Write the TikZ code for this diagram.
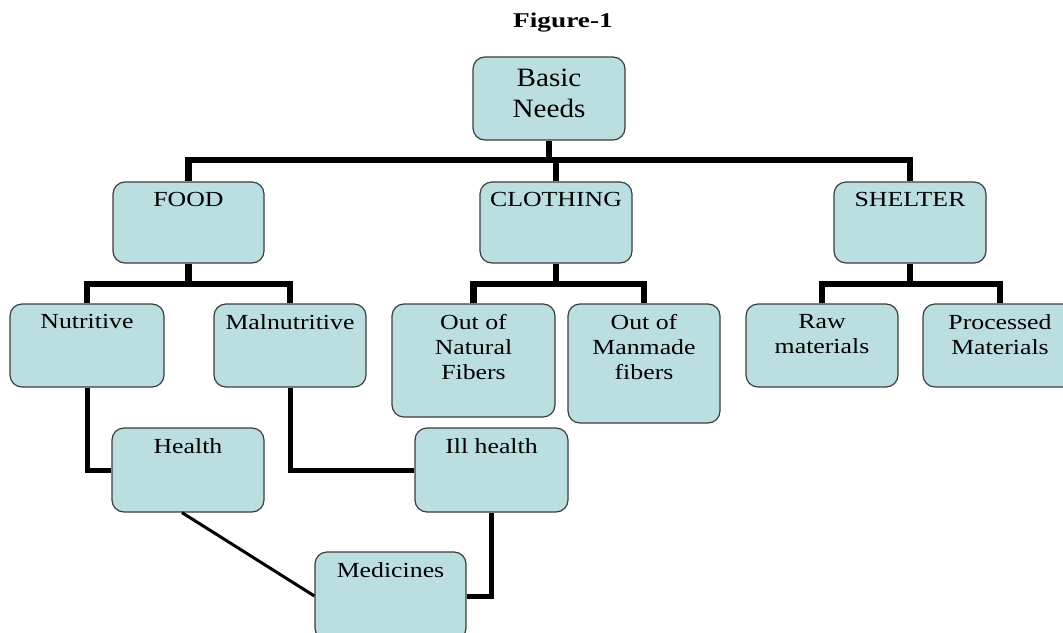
\documentclass[tikz,border=0pt]{standalone}
\usepackage{fontspec}
\setmainfont[FakeStretch=1.2]{Liberation Serif}
\newfontfamily\bigfont[FakeStretch=1.1]{Liberation Serif}
\newfontfamily\titlefont[FakeStretch=1.3]{Liberation Serif}
\definecolor{boxfill}{RGB}{187,222,224}
\definecolor{boxline}{RGB}{60,60,60}
\begin{document}
\begin{tikzpicture}[x=1pt,y=-1pt,
  box/.style={draw=boxline, fill=boxfill, line width=1.2pt, rounded corners=12pt, inner sep=0pt},
  lbl/.style={anchor=north, inner sep=0pt, align=center, font=\fontsize{21.5}{25}\selectfont, yshift=-10.5pt},
  biglbl/.style={anchor=north, inner sep=0pt, align=center, font=\bigfont\fontsize{26.5}{31}\selectfont, yshift=-12.5pt},
  bar/.style={line width=6.5pt, line join=miter},
  conn/.style={line width=5pt, line join=miter},
  thinconn/.style={line width=3pt}]
\path[use as bounding box, clip] (0,0) rectangle (1063,632);

\node[font=\titlefont\bfseries\fontsize{21}{25}\selectfont, inner sep=0pt] (title) at (563,23) {Figure-1};

\node[box, minimum width=152pt, minimum height=83pt, label={[biglbl]north:Basic\\Needs}] (basic) at (549,98.5) {};

\node[box, minimum width=151pt, minimum height=81pt, label={[lbl]north:FOOD}] (food) at (188.5,222.5) {};
\node[box, minimum width=152pt, minimum height=81pt, label={[lbl]north:CLOTHING}] (cloth) at (556,222.5) {};
\node[box, minimum width=152pt, minimum height=81pt, label={[lbl]north:SHELTER}] (shelter) at (910,222.5) {};

\node[box, minimum width=154pt, minimum height=83pt, label={[lbl]north:Nutritive}] (nut) at (87,345.5) {};
\node[box, minimum width=152pt, minimum height=83pt, label={[lbl]north:Malnutritive}] (mal) at (290,345.5) {};
\node[box, minimum width=163pt, minimum height=113pt, label={[lbl]north:Out of\\Natural\\Fibers}] (nat) at (473.5,360.5) {};
\node[box, minimum width=152pt, minimum height=119pt, label={[lbl]north:Out of\\Manmade\\fibers}] (man) at (644,363.5) {};
\node[box, minimum width=152pt, minimum height=83pt, label={[lbl]north:Raw\\materials}] (raw) at (822,345.5) {};
\node[box, minimum width=154pt, minimum height=83pt, label={[lbl]north:Processed\\Materials}] (proc) at (1000,345.5) {};

\node[box, minimum width=152pt, minimum height=84pt, label={[lbl]north:Health}] (health) at (188,470) {};
\node[box, minimum width=153pt, minimum height=84pt, label={[lbl]north:Ill health}] (ill) at (491.5,470) {};
\node[box, minimum width=151pt, minimum height=88pt, label={[lbl]north:Medicines}] (med) at (390.5,596) {};

\coordinate (y1) at (0,160);
\coordinate (y2) at (0,284);

\draw[bar] (basic.south) -- (basic.south |- y1);
\draw[bar] (food.north) -- (food.north |- y1) -- (shelter.north |- y1) -- (shelter.north);
\draw[bar] (cloth.north) -- (cloth.north |- y1);

\draw[bar] (food.south) -- (food.south |- y2);
\draw[bar] (nut.north) -- (nut.north |- y2) -- (mal.north |- y2) -- (mal.north);
\draw[bar] (cloth.south) -- (cloth.south |- y2);
\draw[bar] (nat.north) -- (nat.north |- y2) -- (man.north |- y2) -- (man.north);
\draw[bar] (shelter.south) -- (shelter.south |- y2);
\draw[bar] (raw.north) -- (raw.north |- y2) -- (proc.north |- y2) -- (proc.north);

\draw[conn] (nut.south) |- (health.west);
\draw[conn] (mal.south) |- (ill.west);
\draw[thinconn] ([xshift=-6pt]health.south) -- (med.west);
\draw[conn] (ill.south) |- (med.east);
\end{tikzpicture}
\end{document}
